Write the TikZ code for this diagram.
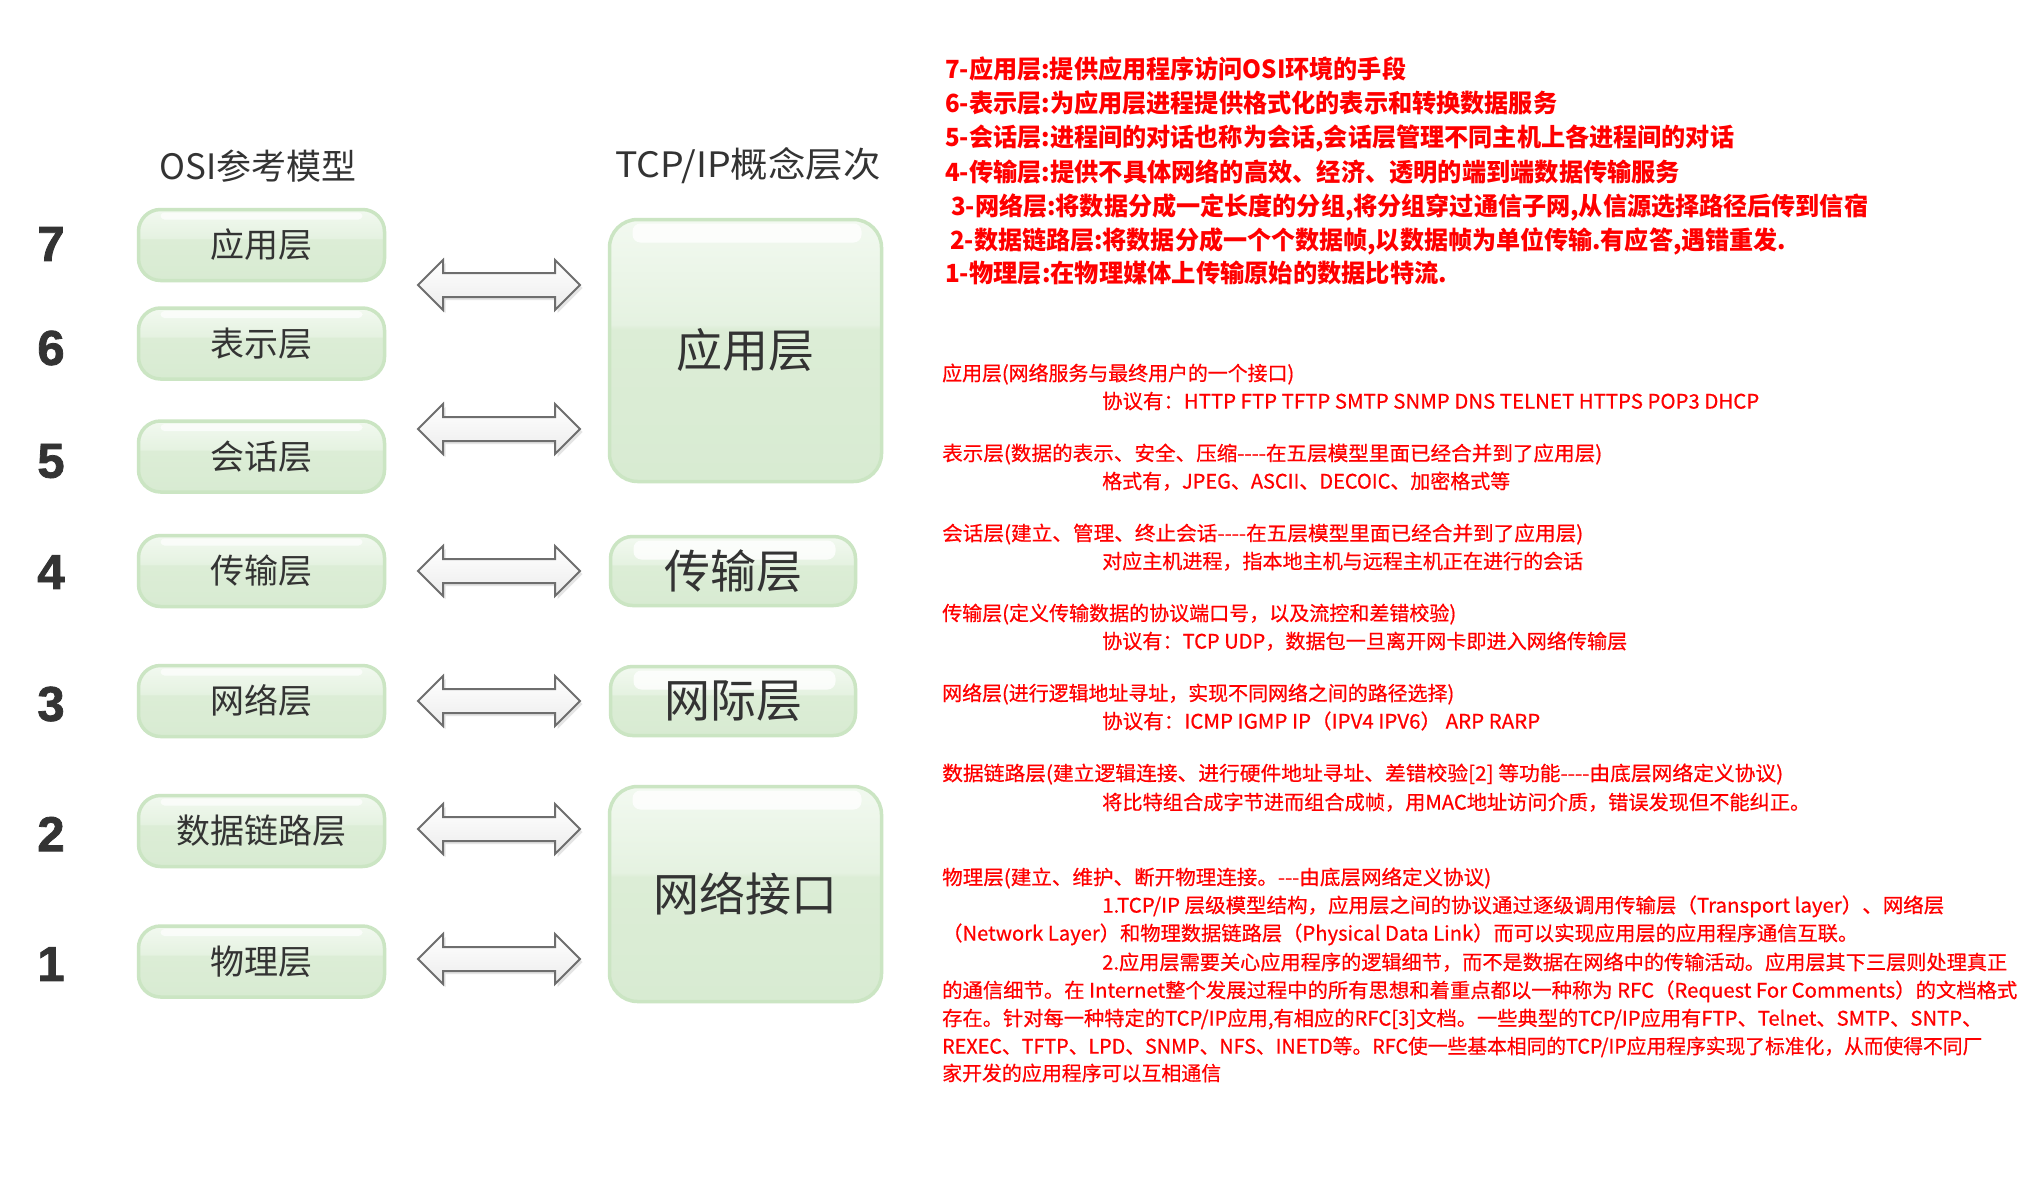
\documentclass[tikz,border=0pt]{standalone}
\usepackage{fontspec}
\usepackage{graphicx}
\setmainfont{Noto Sans CJK SC}
\newfontfamily\notemed{Noto Sans CJK SC}[FakeBold=0.6]
\newfontfamily\numfont{Liberation Sans}[BoldFeatures={FakeBold=1.6}]
\usetikzlibrary{calc}
\definecolor{boxborder}{HTML}{CBE5C3}
\definecolor{gtop}{HTML}{F2F9F0}
\definecolor{gmid}{HTML}{E5F2E1}
\definecolor{glow}{HTML}{DCEDD6}
\definecolor{gbot}{HTML}{D8EBD2}
\definecolor{txtdark}{HTML}{333333}
\definecolor{arrline}{HTML}{6E6E6E}
\definecolor{arrfill}{HTML}{ECECEC}
\definecolor{redtxt}{HTML}{FF0000}
\pgfdeclareverticalshading{glossgreen}{100bp}{color(0bp)=(gbot); color(25bp)=(gbot); color(54bp)=(glow); color(55bp)=(gmid); color(75bp)=(gtop); color(100bp)=(gtop)}
\newcommand\fitline[2]{\resizebox{#1pt}{\height}{#2}}
\tikzset{
  gbox/.style={draw=boxborder, line width=3.5pt, shade, shading=glossgreen, inner sep=0pt, text=txtdark},
  lbox/.style={gbox, rounded corners=22pt, minimum width=246pt, minimum height=71pt,
    font=\fontsize{34}{40}\selectfont,
    path picture={\fill[white,opacity=.7,rounded corners=4pt]
      ($(path picture bounding box.north west)+(22,3)$) rectangle ($(path picture bounding box.north east)+(-22,10)$);}},
  rbox/.style={gbox, rounded corners=28pt,
    font=\fontsize{46}{52}\selectfont,
    path picture={\fill[white,opacity=.8,rounded corners=8pt]
      ($(path picture bounding box.north west)+(23,4)$) rectangle ($(path picture bounding box.north east)+(-20,23)$);}},
  numtxt/.style={inner sep=0pt, text=txtdark, font=\numfont\bfseries\fontsize{49}{49}\selectfont},
  titletxt/.style={inner sep=0pt, text=txtdark, font=\fontsize{35}{40}\selectfont},
  redA/.style={anchor=west, inner sep=0pt, text=redtxt, font=\bfseries\fontsize{25}{30}\selectfont, text height=20.75pt, text depth=1.75pt},
  redB/.style={anchor=west, inner sep=0pt, text=redtxt, font=\notemed\fontsize{20}{24}\selectfont, text height=16.6pt, text depth=1.4pt},
  arrowshadow/.style={fill=black!20, opacity=.5},
  arrowbody/.style={draw=arrline, line width=2pt, top color=white, bottom color=arrfill},
  dblarrow/.pic={
    \fill[arrowshadow, shift={(2.5,3)}] (-81,0) -- (-56,-25) -- (-56,-12) -- (56,-12) -- (56,-25) -- (81,0) -- (56,25) -- (56,12) -- (-56,12) -- (-56,25) -- cycle;
    \draw[arrowbody] (-81,0) -- (-56,-25) -- (-56,-12) -- (56,-12) -- (56,-25) -- (81,0) -- (56,25) -- (56,12) -- (-56,12) -- (-56,25) -- cycle;
  }
}
\begin{document}
\begin{tikzpicture}[x=1pt,y=-1pt]
\fill[white] (0,0) rectangle (2028,1194);
\useasboundingbox (0,0) rectangle (2028,1194);

% titles
\node[titletxt] (osititle) at (258,166) {\fitline{197}{OSI参考模型}};
\node[titletxt] (tcptitle) at (748,166) {\fitline{265}{TCP/IP概念层次}};

% layer numbers
\node[numtxt] (n7) at (51,244) {7};
\node[numtxt] (n6) at (51,348) {6};
\node[numtxt] (n5) at (51,461) {5};
\node[numtxt] (n4) at (51,572) {4};
\node[numtxt] (n3) at (51,704) {3};
\node[numtxt] (n2) at (51,834) {2};
\node[numtxt] (n1) at (51,964) {1};

% OSI boxes
\node[lbox] (osi7) at (261.5,245) {应用层};
\node[lbox] (osi6) at (261.5,343.5) {表示层};
\node[lbox] (osi5) at (261.5,456.5) {会话层};
\node[lbox] (osi4) at (261.5,571) {传输层};
\node[lbox] (osi3) at (261.5,701) {网络层};
\node[lbox] (osi2) at (261.5,831) {数据链路层};
\node[lbox] (osi1) at (261.5,961.5) {物理层};

% TCP/IP boxes
\node[rbox, minimum width=272pt, minimum height=262pt] (tapp) at (745.5,350.5) {应用层};
\node[rbox, rounded corners=22pt, minimum width=245pt, minimum height=69pt] (ttrans) at (733,571) {传输层};
\node[rbox, rounded corners=22pt, minimum width=245pt, minimum height=69pt] (tinet) at (733,701) {网际层};
\node[rbox, minimum width=272pt, minimum height=215pt] (tnet) at (745.5,894) {网络接口};

% double arrows
\pic (a7) at (499,285) {dblarrow};
\pic (a5) at (499,429) {dblarrow};
\pic (a4) at (499,571) {dblarrow};
\pic (a3) at (499,701) {dblarrow};
\pic (a2) at (499,829) {dblarrow};
\pic (a1) at (499,959) {dblarrow};

% top list
\node[redA] (t1) at (945,69) {\fitline{461}{7-应用层:提供应用程序访问OSI环境的手段}};
\node[redA] (t2) at (945,103) {\fitline{612}{6-表示层:为应用层进程提供格式化的表示和转换数据服务}};
\node[redA] (t3) at (945,137) {\fitline{789}{5-会话层:进程间的对话也称为会话,会话层管理不同主机上各进程间的对话}};
\node[redA] (t4) at (945,172) {\fitline{735}{4-传输层:提供不具体网络的高效、经济、透明的端到端数据传输服务}};
\node[redA] (t5) at (951,206) {\fitline{917}{3-网络层:将数据分成一定长度的分组,将分组穿过通信子网,从信源选择路径后传到信宿}};
\node[redA] (t6) at (950,240) {\fitline{836}{2-数据链路层:将数据分成一个个数据帧,以数据帧为单位传输.有应答,遇错重发.}};
\node[redA] (t7) at (945,273) {\fitline{502}{1-物理层:在物理媒体上传输原始的数据比特流.}};

% detail list
\node[redB] (l1) at (942,373) {\fitline{352}{应用层(网络服务与最终用户的一个接口)}};
\node[redB] (l2) at (1102,401) {\fitline{657}{协议有：HTTP FTP TFTP SMTP SNMP DNS TELNET HTTPS POP3 DHCP}};
\node[redB] (l3) at (942,453) {\fitline{660}{表示层(数据的表示、安全、压缩-{}-{}-{}-在五层模型里面已经合并到了应用层)}};
\node[redB] (l4) at (1102,481) {\fitline{408}{格式有，JPEG、ASCII、DECOIC、加密格式等}};
\node[redB] (l5) at (942,533) {\fitline{641}{会话层(建立、管理、终止会话-{}-{}-{}-在五层模型里面已经合并到了应用层)}};
\node[redB] (l6) at (1102,561) {\fitline{481}{对应主机进程，指本地主机与远程主机正在进行的会话}};
\node[redB] (l7) at (942,613) {\fitline{514}{传输层(定义传输数据的协议端口号，以及流控和差错校验)}};
\node[redB] (l8) at (1102,641) {\fitline{525}{协议有：TCP UDP，数据包一旦离开网卡即进入网络传输层}};
\node[redB] (l9) at (942,693) {\fitline{512}{网络层(进行逻辑地址寻址，实现不同网络之间的路径选择)}};
\node[redB] (l10) at (1102,721) {\fitline{438}{协议有：ICMP IGMP IP（IPV4 IPV6） ARP RARP}};
\node[redB] (l11) at (942,773) {\fitline{841}{数据链路层(建立逻辑连接、进行硬件地址寻址、差错校验[2] 等功能-{}-{}-{}-由底层网络定义协议)}};
\node[redB] (l12) at (1102,802) {\fitline{708}{将比特组合成字节进而组合成帧，用MAC地址访问介质，错误发现但不能纠正。}};
\node[redB] (l13) at (942,877) {\fitline{549}{物理层(建立、维护、断开物理连接。-{}-{}-由底层网络定义协议)}};
\node[redB] (l14) at (1102,905) {\fitline{842}{1.TCP/IP 层级模型结构，应用层之间的协议通过逐级调用传输层（Transport layer）、网络层}};
\node[redB] (l15) at (942,933) {\fitline{916}{（Network Layer）和物理数据链路层（Physical Data Link）而可以实现应用层的应用程序通信互联。}};
\node[redB] (l16) at (1102,962) {\fitline{905}{2.应用层需要关心应用程序的逻辑细节，而不是数据在网络中的传输活动。应用层其下三层则处理真正}};
\node[redB] (l17) at (942,990) {\fitline{1075}{的通信细节。在 Internet整个发展过程中的所有思想和着重点都以一种称为 RFC（Request For Comments）的文档格式}};
\node[redB] (l18) at (942,1018) {\fitline{1040}{存在。针对每一种特定的TCP/IP应用,有相应的RFC[3]文档。一些典型的TCP/IP应用有FTP、Telnet、SMTP、SNTP、}};
\node[redB] (l19) at (942,1046) {\fitline{1040}{REXEC、TFTP、LPD、SNMP、NFS、INETD等。RFC使一些基本相同的TCP/IP应用程序实现了标准化，从而使得不同厂}};
\node[redB] (l20) at (942,1073) {\fitline{279}{家开发的应用程序可以互相通信}};
\end{tikzpicture}
\end{document}
